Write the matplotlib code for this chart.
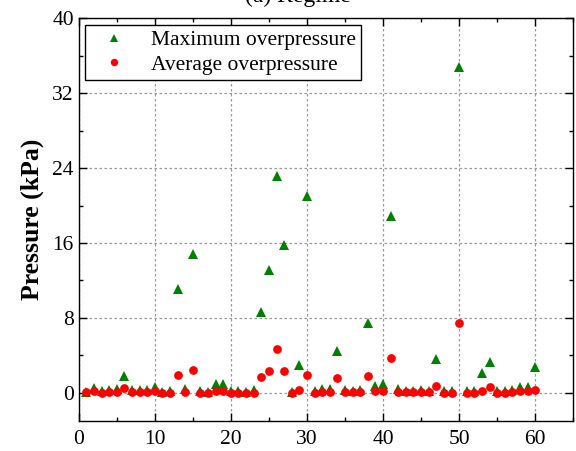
import matplotlib
matplotlib.use("Agg")
import matplotlib.pyplot as plt
from matplotlib.ticker import MultipleLocator

case_no = list(range(1, 61))
max_overpressure = [
    0.1, 0.5, 0.15, 0.3, 0.4, 1.8, 0.3, 0.3, 0.3, 0.55,
    0.1, 0.15, 11.1, 0.35, 14.8, 0.15, 0.1, 0.95, 0.95, 0.2,
    0.15, 0.1, 0.25, 8.6, 13.1, 23.2, 15.8, 0.1, 3.0, 21.0,
    0.2, 0.4, 0.35, 4.45, 0.3, 0.2, 0.3, 7.45, 0.7, 0.9,
    18.9, 0.4, 0.2, 0.2, 0.3, 0.2, 3.55, 0.2, 0.15, 34.8,
    0.15, 0.2, 2.1, 3.3, 0.15, 0.15, 0.3, 0.6, 0.6, 2.75,
]
avg_overpressure = [
    0.05, 0.2, 0.0, 0.1, 0.1, 0.5, 0.1, 0.1, 0.1, 0.2,
    0.0, 0.0, 1.9, 0.1, 2.4, 0.0, 0.0, 0.15, 0.2, 0.0,
    0.0, 0.0, 0.0, 1.65, 2.3, 4.7, 2.3, 0.0, 0.3, 1.9,
    0.0, 0.1, 0.07, 1.57, 0.07, 0.07, 0.07, 1.82, 0.15, 0.15,
    3.72, 0.07, 0.07, 0.07, 0.07, 0.07, 0.72, 0.0, 0.0, 7.43,
    0.0, 0.0, 0.2, 0.57, 0.0, 0.0, 0.07, 0.15, 0.15, 0.28,
]
y_ticks = [0, 8, 16, 24, 32, 40]
x_ticks = [0, 10, 20, 30, 40, 50, 60]

plt.rcParams['font.family'] = ['Liberation Serif', 'DejaVu Serif']

fig = plt.figure(figsize=(5.76, 4.51), dpi=100)
ax = fig.add_axes([0.1366, 0.0672, 0.8587, 0.8918])

ax.plot(case_no, max_overpressure, linestyle='none', marker='^', color='#008000',
        markersize=7, markeredgewidth=0, label='Maximum overpressure', zorder=3)
ax.plot(case_no, avg_overpressure, linestyle='none', marker='o', color='#ff0000',
        markersize=6.3, markeredgewidth=0, label='Average overpressure', zorder=4)

ax.set_xlim(0, 65)
ax.set_ylim(-3, 40)
ax.set_xticks(x_ticks)
ax.set_yticks(y_ticks)
ax.xaxis.set_minor_locator(MultipleLocator(5))
ax.yaxis.set_minor_locator(MultipleLocator(4))
ax.tick_params(which='both', direction='in', top=True, right=True, labelsize=15.5,
               width=1.0)
ax.tick_params(which='major', length=6)
ax.tick_params(which='minor', length=3)
ax.tick_params(axis='x', pad=7)
for s in ax.spines.values():
    s.set_linewidth(1.0)

ax.grid(True, which='major', color='#999999', linestyle=(0, (2, 2)), linewidth=0.9)
ax.set_axisbelow(True)

ax.set_ylabel('Pressure (kPa)', fontsize=18.5, fontweight='bold', labelpad=6)

leg = ax.legend(loc='upper left', fontsize=15.5, frameon=True, fancybox=False,
                edgecolor='black', framealpha=1, borderpad=0.25, handletextpad=0.6,
                labelspacing=0.2, borderaxespad=0.3, handlelength=2.2,
                markerscale=0.85)
leg.get_frame().set_linewidth(1.0)

fig.text(0.517, 1.0 - 2.0 / 451, '(a) Regime', ha='center', va='baseline', fontsize=17)

fig.savefig('out.png', dpi=100)
